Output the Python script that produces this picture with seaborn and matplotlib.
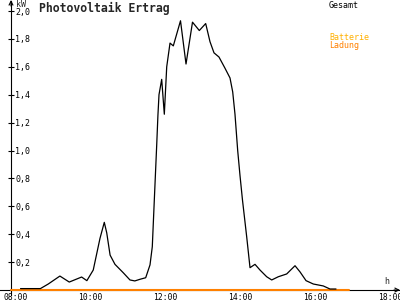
import matplotlib
matplotlib.use("Agg")
import matplotlib.pyplot as plt
import seaborn as sns
import numpy as np
import pandas as pd

# ---- data ----
pv_hours = [8.14, 8.67, 8.88, 9.19, 9.44, 9.77, 9.91, 10.08, 10.26, 10.375, 10.44,
            10.53, 10.66, 10.88, 11.06, 11.19, 11.33, 11.48, 11.595, 11.656, 11.71,
            11.774, 11.806, 11.835, 11.907, 11.977, 12.041, 12.129, 12.217, 12.409,
            12.556, 12.729, 12.911, 13.081, 13.196, 13.303, 13.436, 13.596, 13.73,
            13.802, 13.863, 13.935, 13.997, 14.063, 14.176, 14.264, 14.397, 14.531,
            14.709, 14.843, 15.019, 15.243, 15.465, 15.598, 15.759, 15.953, 16.22,
            16.399, 16.559]
pv_kw = [0.01, 0.01, 0.043, 0.10, 0.057, 0.093, 0.067, 0.143, 0.37, 0.485, 0.41,
         0.25, 0.184, 0.124, 0.072, 0.065, 0.077, 0.088, 0.18, 0.31, 0.645,
         1.04, 1.25, 1.40, 1.51, 1.26, 1.60, 1.77, 1.75, 1.93,
         1.62, 1.92, 1.86, 1.91, 1.78, 1.70, 1.67, 1.59, 1.52,
         1.42, 1.26, 1.0, 0.82, 0.645, 0.38, 0.16, 0.184, 0.143,
         0.095, 0.072, 0.095, 0.115, 0.174, 0.13, 0.067, 0.043, 0.029,
         0.007, 0.007]
bat_hours = [7.885, 16.9]
bat_kw = [0.0, 0.0]

y_ticks = [0.2, 0.4, 0.6, 0.8, 1.0, 1.2, 1.4, 1.6, 1.8, 2.0]
y_labels = ["0,2", "0,4", "0,6", "0,8", "1,0", "1,2", "1,4", "1,6", "1,8", "2,0"]
x_ticks = [8, 10, 12, 14, 16, 18]
x_labels = ["08:00", "10:00", "12:00", "14:00", "16:00", "18:00"]

title = "Photovoltaik Ertrag"
legend_items = [("Gesamt", "#000000", 1), ("Batterie", "#FFB000", 33), ("Ladung", "#FF8000", 41.5)]

# ---- style ----
sns.set_style("white")
plt.rcParams["font.family"] = ["DejaVu Sans Mono", "DejaVu Sans"]

W, H = 400, 300
px_per_h = 37.47
px_per_kw = 139.5
x0 = 8 - 15.3 / px_per_h
x1 = x0 + W / px_per_h
y0 = -10 / px_per_kw
y1 = 290 / px_per_kw
yaxis_x = x0 + 11 / px_per_h

fig = plt.figure(figsize=(4, 3), dpi=100)
ax = fig.add_axes([0, 0, 1, 1])
ax.set_xlim(x0, x1)
ax.set_ylim(y0, y1)

df_pv = pd.DataFrame({"h": pv_hours, "kw": pv_kw})
df_bat = pd.DataFrame({"h": bat_hours, "kw": bat_kw})
sns.lineplot(data=df_bat, x="h", y="kw", color="#FF8000", lw=1.5, ax=ax, zorder=3, sort=False)
sns.lineplot(data=df_pv, x="h", y="kw", color="black", lw=0.9, ax=ax, zorder=4, sort=False)
ax.set_xlabel("")
ax.set_ylabel("")

# spines as axis lines
ax.spines["left"].set_visible(False)
ax.spines["top"].set_visible(False)
ax.spines["right"].set_position(("data", yaxis_x))
ax.spines["bottom"].set_position(("data", 0))
for s in ("right", "bottom"):
    ax.spines[s].set_color("black")
    ax.spines[s].set_linewidth(0.8)
ax.spines["right"].set_bounds(-5 / px_per_kw, y1 - 1 / px_per_kw)

ax.yaxis.tick_right()
ax.set_yticks(y_ticks)
ax.set_yticklabels(y_labels)
ax.set_xticks(x_ticks)
ax.set_xticklabels(x_labels)
ax.tick_params(axis="both", direction="inout", length=4.5, width=0.8, color="black",
               labelsize=6, labelcolor="black", pad=0.8)
ax.tick_params(axis="x", pad=0.0, labelsize=5.8)

# arrows
ax.annotate("", xy=(1.0, 0), xytext=(0.985, 0), xycoords=ax.get_yaxis_transform(),
            textcoords=ax.get_yaxis_transform(),
            arrowprops=dict(arrowstyle="->", lw=0.8, color="black", shrinkA=0, shrinkB=0,
                            mutation_scale=7), annotation_clip=False)
ax.annotate("", xy=(yaxis_x, 1.0), xytext=(yaxis_x, 0.98), xycoords=ax.get_xaxis_transform(),
            textcoords=ax.get_xaxis_transform(),
            arrowprops=dict(arrowstyle="->", lw=0.8, color="black", shrinkA=0, shrinkB=0,
                            mutation_scale=7), annotation_clip=False)

ax.text(x0 + 386.7 / px_per_h, 8.5 / px_per_kw, "h", ha="center", va="center", fontsize=6)
fig.text(21 / W, 1 - 4.5 / H, "kW", ha="center", va="center", fontsize=6)

fig.text(39 / W, 1 - 2 / H, title, ha="left", va="top", fontsize=8.3, fontweight="bold")
for txt, col, top in legend_items:
    fig.text(329 / W, 1 - top / H, txt, ha="left", va="top", fontsize=6, color=col)

fig.savefig("out.png", dpi=100)
